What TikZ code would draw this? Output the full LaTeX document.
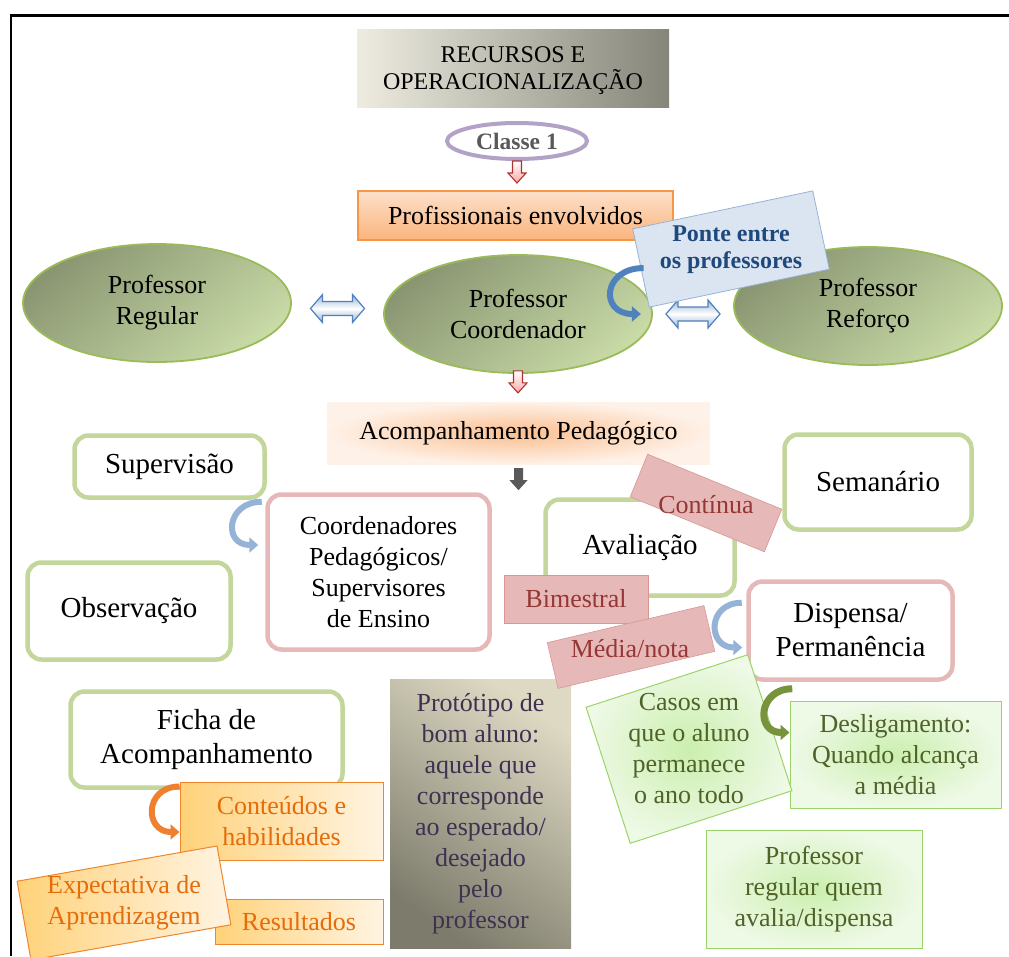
\documentclass[tikz,border=0pt]{standalone}
\usepackage{fontspec}
\setmainfont{Liberation Serif}
\usetikzlibrary{calc,shapes.geometric,arrows.meta}

% palette
\definecolor{leafline}{HTML}{C3D69B}
\definecolor{roseline}{HTML}{E6B9B8}
\definecolor{rosefill}{HTML}{E6B9B8}
\definecolor{rosedark}{HTML}{D99694}
\definecolor{rosetext}{HTML}{953735}
\definecolor{olivedark}{HTML}{8A9672}
\definecolor{olivelight}{HTML}{C8DAA6}
\definecolor{oliveline}{HTML}{9BBB59}
\definecolor{mintline}{HTML}{9BD46A}
\definecolor{mintin}{HTML}{CBEFAE}
\definecolor{mintout}{HTML}{EEF9E6}
\definecolor{minttext}{HTML}{4F6228}
\definecolor{amberline}{HTML}{F0852A}
\definecolor{amberl}{HTML}{FFD27A}
\definecolor{amberr}{HTML}{FFF4E2}
\definecolor{ambertext}{HTML}{E46C0A}
\definecolor{peachline}{HTML}{F79646}
\definecolor{peachtop}{HTML}{FDE0CB}
\definecolor{peachbot}{HTML}{FAB47C}
\definecolor{paleblue}{HTML}{DBE5F1}
\definecolor{skyline}{HTML}{95B3D7}
\definecolor{navytext}{HTML}{1F497D}
\definecolor{steel}{HTML}{4F81BD}
\definecolor{lilac}{HTML}{B3A2C7}
\definecolor{slate}{HTML}{595959}
\definecolor{plumtext}{HTML}{3F3151}
\definecolor{sandlight}{HTML}{DDD9C3}
\definecolor{sanddark}{HTML}{7D7B6B}
\definecolor{stonelight}{HTML}{EEECE1}
\definecolor{stonedark}{HTML}{85857A}
\definecolor{moss}{HTML}{77933C}
\definecolor{tangerine}{HTML}{EE8030}

\tikzset{
  txt/.style={align=center, inner sep=0pt},
  f26/.style={font=\fontsize{26}{31}\selectfont},
  f29/.style={font=\fontsize{29}{34}\selectfont},
  leafbox/.style={draw=leafline, line width=4.5pt, rounded corners=14pt, fill=white, txt, f29},
  rosebox/.style={draw=roseline, line width=4.5pt, rounded corners=14pt, fill=white, txt},
  teacher/.style={ellipse, draw=oliveline, line width=1.8pt, top color=olivedark,
    bottom color=olivelight, shading angle=40, minimum width=268pt, minimum height=118pt, txt, f26},
  tag/.style={fill=rosefill, draw=rosedark, line width=0.6pt, inner sep=0pt},
  tagtxt/.style={txt, f26, text=rosetext},
  mint/.style={draw=mintline, line width=1pt, inner color=mintin, outer color=mintout, inner sep=0pt},
  minttxt/.style={txt, f26, text=minttext},
  amber/.style={draw=amberline, line width=1pt, left color=amberl, right color=amberr, inner sep=0pt},
  ambertxt/.style={txt, f26, text=ambertext},
  bendarrow/.style={line width=6pt, -{Triangle[length=9pt,width=15pt]}},
  pinkdrop/.style={draw=red!60!black!80, line width=1.1pt, top color=white, bottom color=red!35},
  pics/dropdown/.style={code={
    \path[#1] (-4.5,0) -- (4.5,0) -- (4.5,12) -- (9,12) -- (0,22) -- (-9,12) -- (-4.5,12) -- cycle;
  }},
  pics/twoway/.style={code={
    \path[#1] (-27,0) -- (-15,-14) -- (-15,-7) -- (15,-7) -- (15,-14) -- (27,0)
      -- (15,14) -- (15,7) -- (-15,7) -- (-15,14) -- cycle;
  }},
  twowaylook/.style={draw=steel, line width=1.2pt, top color=skyline, bottom color=skyline, middle color=white},
}

\begin{document}
\begin{tikzpicture}[x=1pt,y=-1pt]
\useasboundingbox (0,0) rectangle (1009,956);

% frame
\draw[line width=2.6pt] (11,956) -- (11,15.5) -- (1009,15.5);

% heading
\node[txt, font=\fontsize{24}{27}\selectfont, minimum width=312pt, minimum height=78pt,
      left color=stonelight, right color=stonedark] (title) at (513,68) {};
\node[txt, font=\fontsize{24}{27}\selectfont] (titletxt) at ([yshift=-3pt]title.center)
      {RECURSOS E\\OPERACIONALIZAÇÃO};
\node[ellipse, draw=lilac, line width=4pt, minimum width=140pt, minimum height=36pt, txt,
      font=\fontsize{23.5}{26}\selectfont\bfseries, text=slate] (classe) at (517,141) {Classe 1};
\node[txt, f26, minimum width=315pt, minimum height=49pt, draw=peachline, line width=1.8pt,
      top color=peachtop, bottom color=peachbot] (prof) at (515.5,215.5) {Profissionais envolvidos};
\pic at (classe.south) {dropdown={pinkdrop}};

% teachers
\node[teacher] (reg) at (157,303) {Professor\\Regular};
\node[teacher] (coord) at (518,314) {Professor\\Coordenador};
\node[teacher] (refo) at (868,306) {Professor\\Reforço};
\pic at ($(reg.east)!0.5!(coord.west)$) {twoway={twowaylook}};
\pic at ([yshift=-4pt]$(coord.east)!0.5!(refo.west)$) {twoway={twowaylook}};

\node[draw=skyline, line width=0.8pt, fill=paleblue, rotate=11.9, minimum width=184pt,
      minimum height=80pt, inner sep=0pt] (ponte) at (731,249) {};
\node[txt, font=\fontsize{24}{27}\selectfont\bfseries, text=navytext] (pontetxt)
      at ([xshift=0pt,yshift=-1pt]ponte.center) {Ponte entre\\os professores};
\draw[bendarrow, steel] ([xshift=3pt]ponte.west) to[out=180, in=180, looseness=2.3]
      ([xshift=-12pt]coord.east);

\pic at ([yshift=3pt]coord.south) {dropdown={pinkdrop}};

% follow-up
\node[txt, f26, minimum width=383pt, minimum height=62pt, inner color=peachbot!85,
      outer color=peachtop!45] (acomp) at (518.5,433) {Acompanhamento Pedagógico};
\pic at ([yshift=-4pt]acomp.south) {dropdown={fill=slate}};

\node[leafbox, minimum width=190pt, minimum height=62pt] (sup) at (169.5,466.5) {Supervisão};
\node[leafbox, minimum width=203pt, minimum height=97pt] (obs) at (129,611) {Observação};
\node[rosebox, f26, minimum width=222pt, minimum height=155pt] (cp) at (378.5,572)
      {Coordenadores\\Pedagógicos/\\Supervisores\\de Ensino};
\draw[bendarrow, skyline] ([xshift=-5pt,yshift=-2pt]sup.south east) to[out=180, in=180, looseness=2.1]
      ([xshift=-7pt,yshift=27pt]cp.west);

\node[leafbox, minimum width=189pt, minimum height=96pt] (aval) at (640,547.5) {Avaliação};
\node[leafbox, minimum width=187pt, minimum height=95pt] (sem) at (878,482) {Semanário};
\node[rosebox, f29, minimum width=204pt, minimum height=98pt] (disp) at (850.5,630.5)
      {Dispensa/\\Permanência};

\node[tag, rotate=-22.3, minimum width=145pt, minimum height=46pt] (cont) at (706,503) {};
\node[tagtxt] (conttxt) at ([yshift=-2pt]cont.center) {Contínua};
\node[tag, minimum width=144pt, minimum height=48pt] (bim) at (576,599) {};
\node[tagtxt] (bimtxt) at (bim.center) {Bimestral};

\draw[bendarrow, skyline] ([xshift=5pt,yshift=-5pt]aval.south east) to[out=180, in=180, looseness=2.0]
      ([xshift=-4pt,yshift=-17pt]disp.west);

% prototype
\node[txt, f26, text=plumtext, minimum width=181pt, minimum height=269pt,
      top color=sandlight, bottom color=sanddark, shading angle=-35] (proto) at (480.5,813.5)
      {Protótipo de\\bom aluno:\\aquele que\\corresponde\\ao esperado/\\desejado\\pelo\\professor};

\node[tag, rotate=13.3, minimum width=161pt, minimum height=47pt] (media) at (631,647) {};
\node[tagtxt] (mediatxt) at ([xshift=-1pt,yshift=-2pt]media.center) {Média/nota};

% outcomes
\node[mint, minimum width=211pt, minimum height=107pt] (desl) at (895.5,754.5) {};
\node[minttxt] (desltxt) at (desl.center) {Desligamento:\\Quando alcança\\a média};
\node[mint, rotate=18, minimum width=170pt, minimum height=143pt] (casos) at (689,749) {};
\node[minttxt] (casostxt) at (casos.center) {Casos em\\que o aluno\\permanece\\o ano todo};
\draw[bendarrow, moss, line width=7pt] ([xshift=46pt,yshift=-7pt]disp.south west)
      to[out=180, in=180, looseness=2.0] ([yshift=22pt]desl.west);
\node[mint, minimum width=216pt, minimum height=118pt] (avalia) at (814,889) {};
\node[minttxt] (avaliatxt) at (avalia.center) {Professor\\regular quem\\avalia/dispensa};

% record sheet
\node[leafbox, minimum width=272pt, minimum height=96pt] (ficha) at (206.5,739.5)
      {Ficha de\\Acompanhamento};
\node[amber, minimum width=203pt, minimum height=78pt] (conteudos) at (281.5,821) {};
\node[ambertxt] (conteudostxt) at (conteudos.center) {Conteúdos e\\habilidades};
\draw[bendarrow, tangerine] ([yshift=-5pt]conteudos.north west) to[out=180, in=180, looseness=2.0]
      ([yshift=-11pt]conteudos.west);
\node[amber, minimum width=168pt, minimum height=45pt] (result) at (299,921.5) {};
\node[ambertxt] (resulttxt) at (result.center) {Resultados};
\node[amber, rotate=10, minimum width=203pt, minimum height=80pt] (expect) at (124,903) {};
\node[ambertxt] (expecttxt) at (expect.center) {Expectativa de\\Aprendizagem};

\end{tikzpicture}
\end{document}
